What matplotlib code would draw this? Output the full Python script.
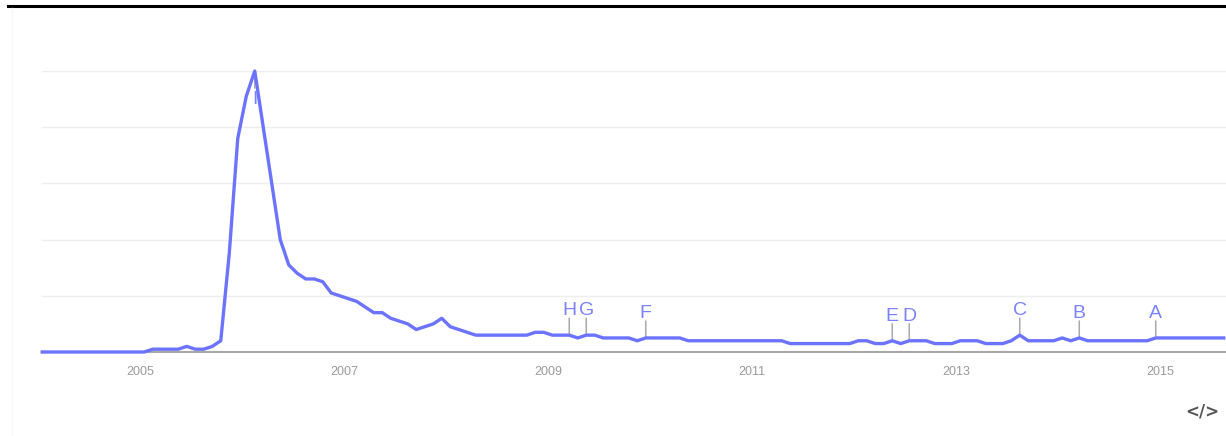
import matplotlib
matplotlib.use("Agg")
import matplotlib.pyplot as plt
import numpy as np

plt.rcParams['font.family'] = ['Liberation Sans', 'DejaVu Sans']

# monthly interest, Jan 2004 .. Aug 2015
interest = [
    0, 0, 0, 0, 0, 0, 0, 0, 0, 0, 0, 0,          # 2004
    0, 1, 1, 1, 1, 2, 1, 1, 2, 4, 35, 76,         # 2005
    91, 100, 80, 60, 40, 31, 28, 26, 26, 25, 21, 20,  # 2006
    19, 18, 16, 14, 14, 12, 11, 10, 8, 9, 10, 12,     # 2007
    9, 8, 7, 6, 6, 6, 6, 6, 6, 6, 7, 7,               # 2008
    6, 6, 6, 5, 6, 6, 5, 5, 5, 5, 4, 5,               # 2009
    5, 5, 5, 5, 4, 4, 4, 4, 4, 4, 4, 4,               # 2010
    4, 4, 4, 4, 3, 3, 3, 3, 3, 3, 3, 3,               # 2011
    4, 4, 3, 3, 4, 3, 4, 4, 4, 3, 3, 3,               # 2012
    4, 4, 4, 3, 3, 3, 4, 6, 4, 4, 4, 4,               # 2013
    5, 4, 5, 4, 4, 4, 4, 4, 4, 4, 4, 5,               # 2014
    5, 5, 5, 5, 5, 5, 5, 5,                           # 2015
]
start_year = 2004

# news headline flags: letter, month index from Jan 2004
event_letters = ['I', 'H', 'G', 'F', 'E', 'D', 'C', 'B', 'A']
event_months = [25, 62, 64, 71, 100, 102, 115, 122, 131]

year_ticks = [2005, 2007, 2009, 2011, 2013, 2015]

line_color = '#6b73ff'
flag_color = '#7a82ff'

# points sit mid-month
x = start_year + (np.arange(len(interest)) + 0.5) / 12

fig = plt.figure(figsize=(12.26, 4.36), dpi=100)
ax = fig.add_axes([42 / 1226, 84 / 436, 1184 / 1226, 281 / 436])

for v in [20, 40, 60, 80, 100]:
    ax.axhline(v, color='#eeeeee', lw=1.0, zorder=0)

ax.plot(x, interest, color=line_color, lw=2.4, zorder=3, clip_on=False,
        solid_joinstyle='round')

for letter, m in zip(event_letters, event_months):
    ex, ey = x[m], interest[m]
    sign = -1 if ey > 90 else 1
    ax.annotate('', xy=(ex, ey), xytext=(0, 17 * sign), textcoords='offset pixels',
                arrowprops=dict(arrowstyle='-', color='#aaaaaa', lw=1.1,
                                shrinkA=0, shrinkB=0), zorder=2)
    ax.annotate(letter, xy=(ex, ey), xytext=(0, 20 * sign), textcoords='offset pixels',
                ha='center', va='baseline' if sign > 0 else 'top',
                fontsize=14, color=flag_color, zorder=4)

ax.set_xlim(start_year + 4 / 102, start_year + 1188 / 102)
ax.set_ylim(0, 100)
ax.set_xticks(year_ticks)
ax.set_xticklabels([str(y) for y in year_ticks])
ax.set_yticks([])
ax.tick_params(axis='x', length=0, pad=10, labelsize=9, labelcolor='#9a9a9a')

for s in ['top', 'left', 'right']:
    ax.spines[s].set_visible(False)
ax.spines['bottom'].set_color('#a8a8a8')
ax.spines['bottom'].set_linewidth(1.5)
ax.spines['bottom'].set_zorder(1)

# header rule and embed icon
fig.add_artist(plt.Line2D([8 / 1226, 1], [430 / 436, 430 / 436], color='black', lw=2.2))
fig.add_artist(plt.Line2D([12 / 1226, 12 / 1226], [0, 428 / 436], color='#f8f8f8', lw=1))
fig.text(1202 / 1226, 1 - 411 / 436, '</>', ha='center', va='center',
         fontsize=12, fontweight='bold', color='#555555', family='DejaVu Sans')

fig.savefig('out.png', dpi=100)
